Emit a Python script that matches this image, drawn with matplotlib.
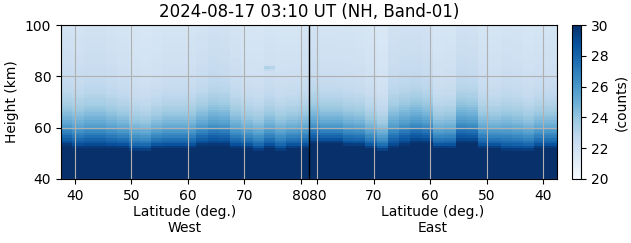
import numpy as np
import matplotlib
matplotlib.use('Agg')
import matplotlib.pyplot as plt

# saturated-region top (km) and haze level for 2-degree latitude groups
# west half: lat 37.5 -> 81.5 ; east half in plot order: lat 81.5 -> 37.5
west_edge = [53, 52, 52, 52, 52, 52, 51, 51, 52, 52, 52,
             52, 53, 53, 53, 52, 52, 51, 52, 51, 52, 52]
west_haze = [0.7, 0.7, 0.9, 0.9, 0.7, 0.5, 0.3, 0.2, 0.3, 0.5, 0.5,
             0.5, 0.7, 1.0, 0.9, 0.6, 0.3, 0.3, 0.5, 0.4, 0.4, 0.5]
east_edge = [54, 54, 54, 53, 53, 52, 51, 52, 53, 54, 54,
             52, 52, 54, 54, 52, 52, 51, 51, 51, 52, 52]
east_haze = [0.7, 0.5, 0.5, 0.5, 0.4, 0.2, 0.0, 0.9, 1.0, 1.0, 0.8,
             0.3, 0.4, 1.0, 0.9, 0.5, 0.4, 0.7, 0.6, 0.4, 0.5, 0.5]

# counts vs km above the saturated region (clear column, extra for haze)
base = [29.3, 28.3, 27.5, 26.9, 26.3, 25.8, 25.3, 24.9, 24.5, 24.2,
        23.9, 23.6, 23.4, 23.2, 23.0, 22.85, 22.7, 22.6, 22.5, 22.4,
        22.3, 22.2, 22.15, 22.1, 22.05, 22.0, 21.95, 21.9, 21.9, 21.85,
        21.85, 21.8, 21.8, 21.75, 21.75, 21.7, 21.7, 21.7, 21.65, 21.65,
        21.65, 21.6, 21.6, 21.6, 21.55, 21.55, 21.55, 21.5, 21.5]
haze_add = [0.4, 0.8, 1.0, 1.2, 1.3, 1.4, 1.4, 1.4, 1.4, 1.4,
            1.4, 1.4, 1.35, 1.3, 1.25, 1.2, 1.1, 1.0, 0.95, 0.9,
            0.85, 0.8, 0.8, 0.75, 0.75, 0.7, 0.7, 0.7, 0.65, 0.65,
            0.65, 0.65, 0.6, 0.6, 0.6, 0.6, 0.6, 0.55, 0.55, 0.55,
            0.55, 0.55, 0.55, 0.5, 0.5, 0.5, 0.5, 0.5, 0.5]

# small faint spot (west side)
spot_lat = [74, 75, 74, 75]
spot_h = [83, 83, 82, 82]
spot_val = [23.2, 23.0, 22.6, 22.5]

tick_pos = [40, 50, 60, 70, 80, 83, 93, 103, 113, 123]
tick_lab = ['40', '50', '60', '70', '80', '80', '70', '60', '50', '40']

heights = np.arange(40, 100)
lat_edges = np.arange(37.5, 82.0, 1.0)
mid = 81.5
x_edges = np.concatenate([lat_edges, 2 * mid - lat_edges[::-1][1:]])
y_edges = np.arange(40, 101)

edges = np.repeat(west_edge + east_edge, 2)
hazes = np.repeat(west_haze + east_haze, 2)

counts = np.zeros((len(heights), len(edges)))
for j in range(len(edges)):
    for i, h in enumerate(heights):
        d = h - edges[j]
        if d < 0:
            counts[i, j] = 30.5
        else:
            counts[i, j] = base[d] + hazes[j] * haze_add[d]
for la, h, v in zip(spot_lat, spot_h, spot_val):
    j = int(la - 38)
    counts[h - 40, j] = v

fig = plt.figure(figsize=(6.31, 2.43), dpi=100)
ax = fig.add_axes([0.0967, 0.2634, 0.786, 0.6336])
cax = fig.add_axes([0.9065, 0.2634, 0.0143, 0.6336])

pc = ax.pcolormesh(x_edges, y_edges, counts, cmap='Blues', vmin=20, vmax=30)
ax.axvline(mid, color='black', lw=1)
ax.set_xlim(x_edges[0], x_edges[-1])
ax.set_ylim(40, 100)
ax.set_xticks(tick_pos)
ax.set_xticklabels(tick_lab)
ax.set_yticks([40, 60, 80, 100])
ax.grid(True)
ax.set_ylabel('Height (km)')
ax.set_title('2024-08-17 03:10 UT (NH, Band-01)', fontsize=12)
ax.text(0.25, -0.17, 'Latitude (deg.)\nWest', transform=ax.transAxes,
        ha='center', va='top')
ax.text(0.75, -0.17, 'Latitude (deg.)\nEast', transform=ax.transAxes,
        ha='center', va='top')

cb = fig.colorbar(pc, cax=cax)
cb.set_label('(counts)')
cb.set_ticks([20, 22, 24, 26, 28, 30])

fig.savefig('out.png', dpi=100)
